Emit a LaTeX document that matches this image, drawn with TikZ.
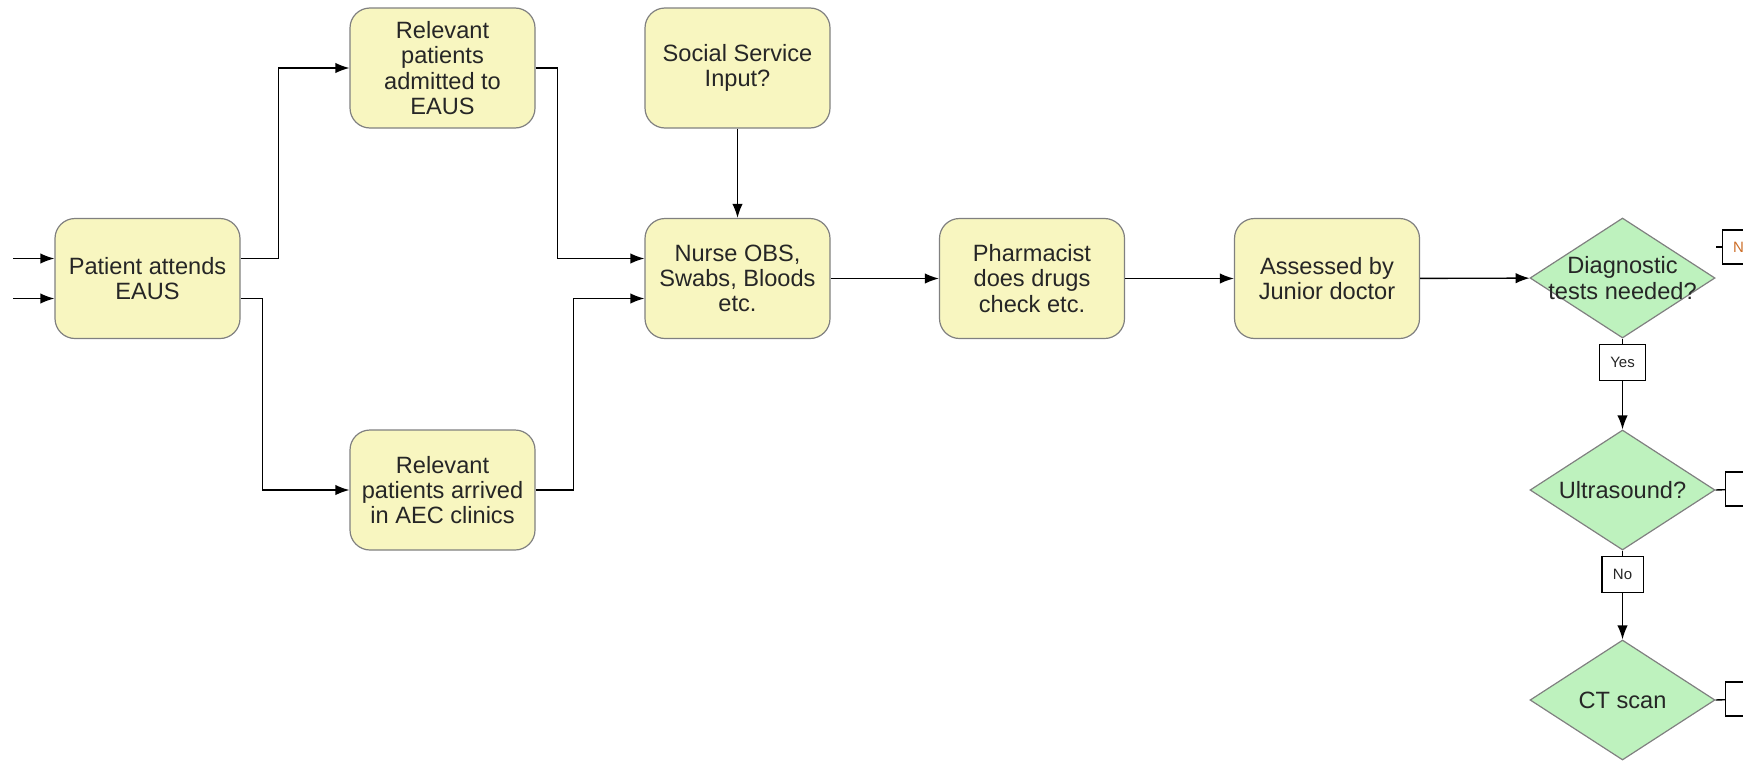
\documentclass[tikz,border=0pt]{standalone}
\usepackage{fontspec}
\setmainfont{Liberation Sans}
\usetikzlibrary{arrows.meta, shapes.geometric}

\definecolor{boxfill}{RGB}{248,246,192}
\definecolor{boxline}{RGB}{128,128,128}
\definecolor{decfill}{RGB}{190,242,190}
\definecolor{lblorange}{RGB}{205,110,40}

\begin{document}
\begin{tikzpicture}[>={Latex[length=7pt,width=5.2pt]}, x=0.5pt, y=-0.5pt, line width=0.7pt]
          \tikzstyle{box}=[rectangle, rounded corners=10pt, draw=boxline, line width=0.6pt, fill=boxfill, minimum width=92.5pt, minimum height=60pt, align=center, text=black!85, font=\fontsize{11.8}{12.6}\selectfont, inner sep=2pt]
          \tikzstyle{decision}=[diamond, draw=boxline, line width=0.6pt, fill=decfill, minimum width=92.5pt, minimum height=60pt, inner sep=0pt]
          \tikzstyle{dtxt}=[align=center, text=black!85, font=\fontsize{11.8}{12.6}\selectfont, inner sep=0pt]
          \tikzstyle{lbl}=[rectangle, draw=black, line width=0.6pt, fill=white, minimum height=18pt, inner xsep=5.5pt, font=\fontsize{7.5}{8}\selectfont, text=black!85]
          \tikzstyle{cutlbl}=[rectangle, draw=black, line width=0.6pt, fill=white, minimum height=17pt, minimum width=20pt, inner xsep=5pt, font=\fontsize{7.5}{8}\selectfont]

          \useasboundingbox (0,0) rectangle (1743,760);
          \clip (0,0) rectangle (1743,760);

          \node[box] (pat) at (147.5,278.5) {Patient attends\\EAUS};
          \node[box] (adm) at (442.5,68) {Relevant\\patients\\admitted to\\EAUS};
          \node[box] (aec) at (442.5,490) {Relevant\\patients arrived\\in AEC clinics};
          \node[box] (soc) at (737.5,68) {Social Service\\Input?};
          \node[box] (nur) at (737.5,278.5) {Nurse OBS,\\Swabs, Bloods\\etc.};
          \node[box] (pha) at (1032,278.5) {Pharmacist\\does drugs\\check etc.};
          \node[box] (ass) at (1327,278.5) {Assessed by\\Junior doctor};

          \node[decision, label={[dtxt]center:Diagnostic\\tests needed?}] (diag) at (1622.5,278) {};
          \node[decision, label={[dtxt]center:Ultrasound?}] (us) at (1622.5,490) {};
          \node[decision, label={[dtxt]center:CT scan}] (ct) at (1622.5,700) {};

          % incoming arrows on the left
          \coordinate (in1) at (13,258.5);
          \coordinate (in2) at (13,298.5);
          \draw[->] (in1) -- (pat.west |- in1);
          \draw[->] (in2) -- (pat.west |- in2);

          \draw[->] ([yshift=10pt]pat.east) -- ++(38,0) |- (adm.west);
          \draw[->] ([yshift=-10pt]pat.east) -- ++(22,0) |- (aec.west);
          \draw[->] (adm.east) -- ++(22,0) |- ([yshift=10pt]nur.west);
          \draw[->] (aec.east) -- ++(38,0) |- ([yshift=-10pt]nur.west);

          \path (soc) edge[->] (nur);
          \path (nur) edge[->] (pha);
          \path (pha) edge[->] (ass);
          \path (ass) edge[->] (diag);

          \draw[->] (diag) -- node[lbl, pos=0.26] (yes) {Yes} (us);
          \draw[->] (us) -- node[lbl, pos=0.27] (no) {No} (ct);

          % branches running off the right edge
          \node[cutlbl, anchor=west, text=lblorange] (dno) at (1722,247) {No};
          \node[cutlbl, anchor=west] (usr) at (1725,489) {};
          \node[cutlbl, anchor=west] (ctr) at (1725,699) {};
          \coordinate (tA) at (1716,247);
          \draw (tA) -- (dno);
          \draw (us.east) -- (usr);
          \draw (ct.east) -- (ctr);

        \end{tikzpicture}
\end{document}
